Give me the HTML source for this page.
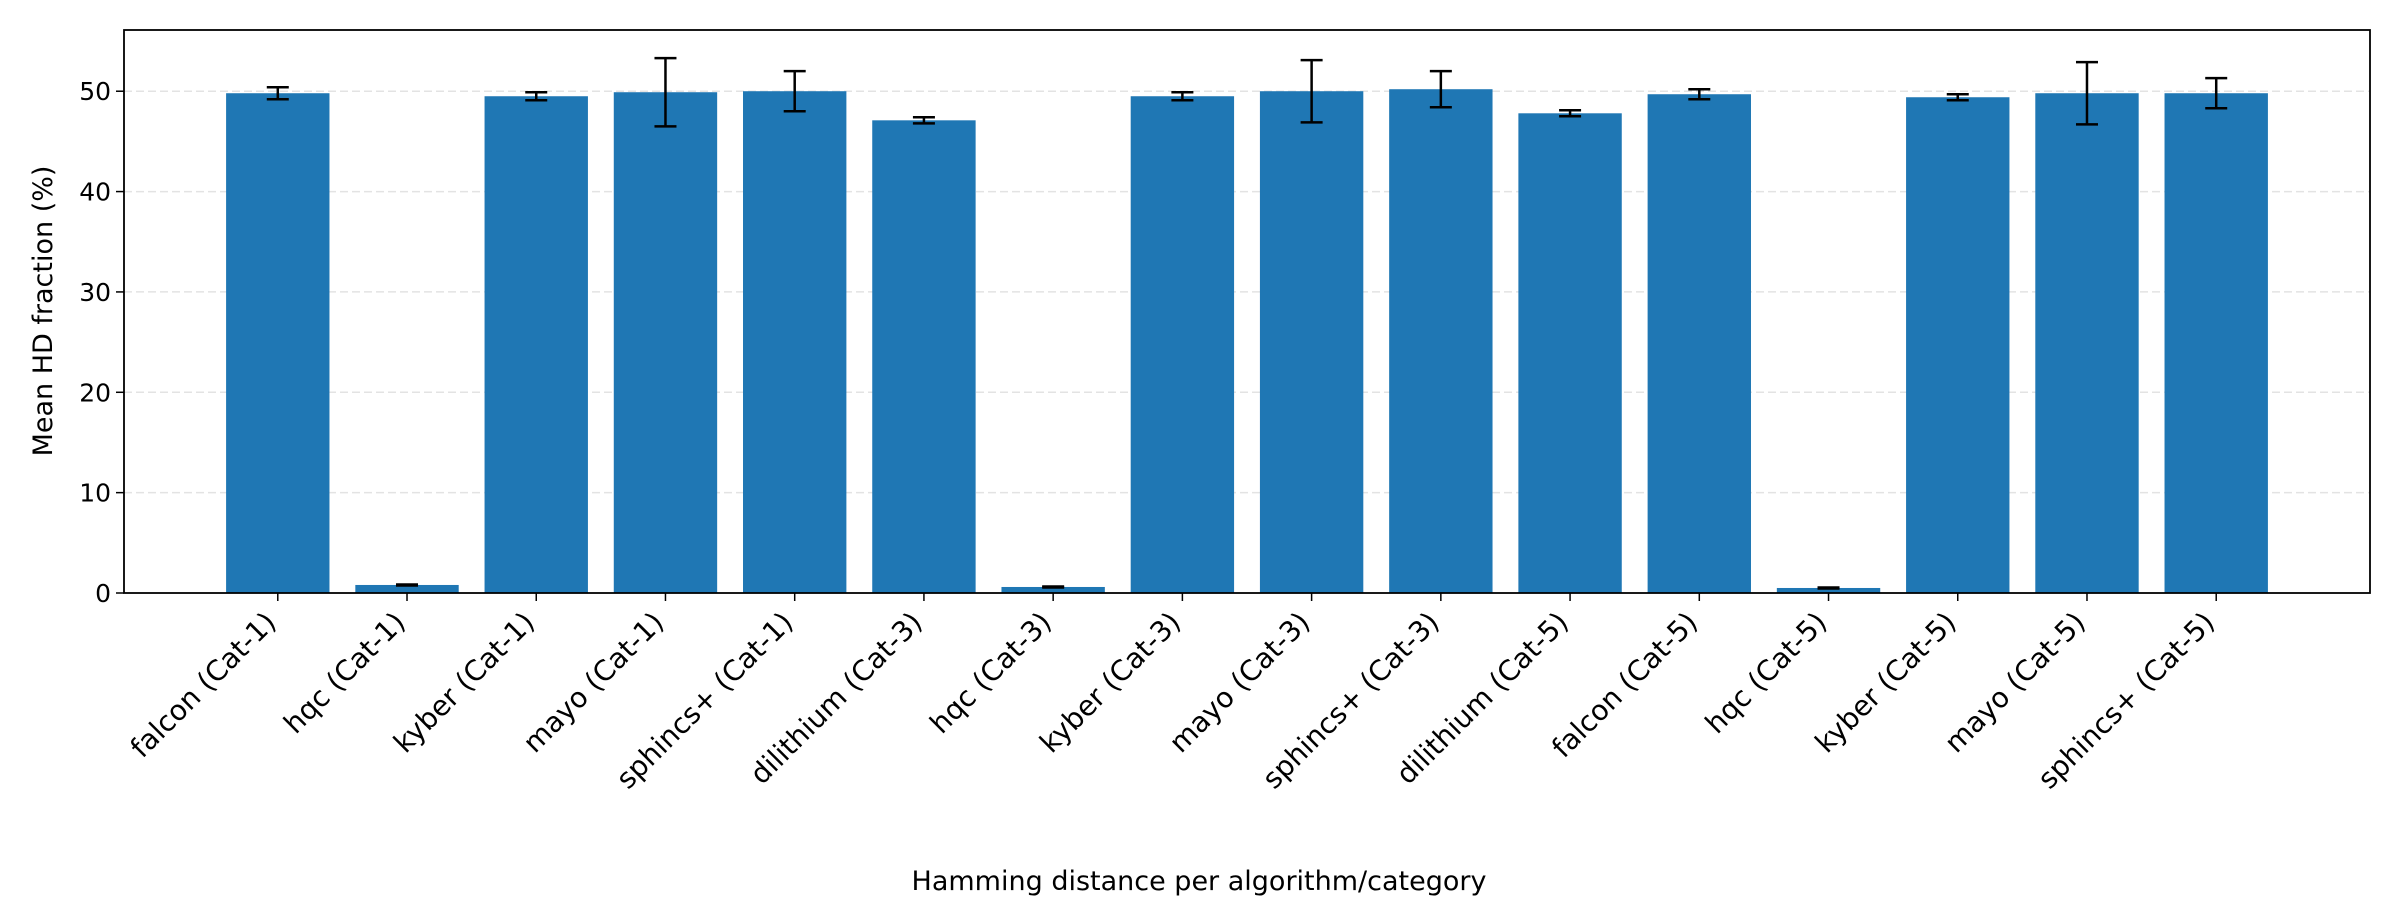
<!DOCTYPE html>
<html><head><meta charset="utf-8"><style>
body{margin:0;background:#fff}
svg{display:block;font-family:"DejaVu Sans","Liberation Sans",sans-serif}
</style></head><body>
<svg id="chart" width="2400" height="900" viewBox="0 0 2400 900" xmlns="http://www.w3.org/2000/svg">
<rect width="2400" height="900" fill="#fff"/>
<g id="grid"></g><g id="bars"></g><g id="errs"></g><g id="axes"></g>
<text x="1199" y="890" font-size="27" text-anchor="middle">Hamming distance per algorithm/category</text>
<text transform="translate(52,311) rotate(-90)" font-size="27" text-anchor="middle">Mean HD fraction (%)</text>
</svg>
<script>
const categories=["falcon (Cat-1)","hqc (Cat-1)","kyber (Cat-1)","mayo (Cat-1)","sphincs+ (Cat-1)","dilithium (Cat-3)","hqc (Cat-3)","kyber (Cat-3)","mayo (Cat-3)","sphincs+ (Cat-3)","dilithium (Cat-5)","falcon (Cat-5)","hqc (Cat-5)","kyber (Cat-5)","mayo (Cat-5)","sphincs+ (Cat-5)"];
const values=[49.8,0.8,49.5,49.9,50.0,47.1,0.6,49.5,50.0,50.2,47.8,49.7,0.5,49.4,49.8,49.8];
const errors=[0.6,0.05,0.4,3.4,2.0,0.3,0.05,0.4,3.1,1.8,0.3,0.5,0.05,0.3,3.1,1.5];
const yTicks=[0,10,20,30,40,50];
const NS="http://www.w3.org/2000/svg";
const L=124,R=2370,T=30,B=593,xmin=-1.19,xmax=16.19,ymax=56.1;
const xs=i=>L+(i-xmin)/(xmax-xmin)*(R-L);
const ys=v=>B-v/ymax*(B-T);
function mk(tag,attrs,parent){const e=document.createElementNS(NS,tag);for(const k in attrs)e.setAttribute(k,attrs[k]);document.getElementById(parent).appendChild(e);return e;}
const bw=(xs(0.8)-xs(0));
yTicks.forEach(t=>{
 if(t>0){const g=mk('line',{x1:L,x2:R,y1:ys(t),y2:ys(t),stroke:'#b0b0b0','stroke-opacity':0.35,'stroke-width':1.5,'stroke-dasharray':'8,4'},'grid');
 
 }
 const tk=mk('line',{x1:L-8,x2:L,y1:ys(t),y2:ys(t),stroke:'#000','stroke-width':1.5},'axes');
 
 
 const tl=mk('text',{x:L-13,y:ys(t)+9,'font-size':25,'text-anchor':'end'},'axes');
 tl.textContent=t;
 
 
});
categories.forEach((c,i)=>{
 const x=xs(i),v=values[i],e=errors[i];
 const b=mk('rect',{x:x-bw/2,y:ys(v),width:bw,height:B-ys(v),fill:'#1f77b4'},'bars');
 
 
 const l=mk('line',{x1:x,x2:x,y1:ys(v+e),y2:ys(v-e),stroke:'#000','stroke-width':2.5},'errs');
 
 
 [v+e,v-e].forEach(y=>{const c2=mk('line',{x1:x-11,x2:x+11,y1:ys(y),y2:ys(y),stroke:'#000','stroke-width':2.5},'errs');
 
 });
 const tk=mk('line',{x1:x,x2:x,y1:B,y2:B+8,stroke:'#000','stroke-width':1.5},'axes');
 
 
 const t=mk('text',{transform:`translate(${x-15},${B+16}) rotate(-45)`,'font-size':28,'text-anchor':'end',dy:'0.75em'},'axes');
 t.textContent=c;
 
 
});
const f=mk('rect',{x:L,y:T,width:R-L,height:B-T,fill:'none',stroke:'#000','stroke-width':1.8},'axes');


</script>
</body></html>
